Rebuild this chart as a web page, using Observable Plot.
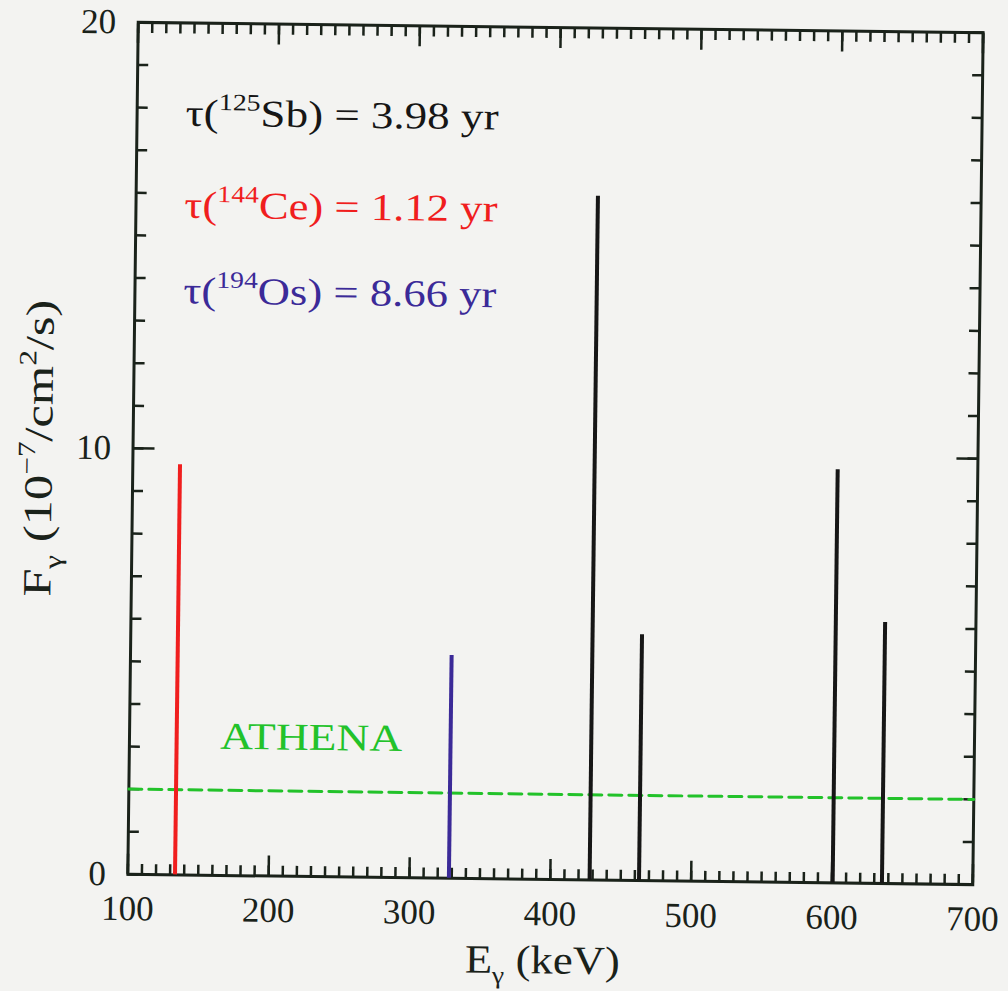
<!DOCTYPE html>
<html><head><meta charset="utf-8">
<script src="https://cdn.jsdelivr.net/npm/d3@7"></script>
<script src="https://cdn.jsdelivr.net/npm/@observablehq/plot@0.6"></script>
<style>
html,body{margin:0;padding:0;background:#f3f3f1;}
#chart svg{display:block;}
</style></head><body><div id="chart"></div>
<script>
// ---- data ----
const lineEnergy  = [133.5, 328.0, 427.9, 463.0, 600.5, 635.5];   // keV
const lineFlux    = [9.63, 5.23, 16.05, 5.77, 9.70, 6.13];          // 10^-7 /cm2/s
const lineNuclide = ["144Ce", "194Os", "125Sb", "125Sb", "125Sb", "125Sb"];
const nuclides       = ["125Sb", "144Ce", "194Os"];
const nuclideMass    = ["125", "144", "194"];
const nuclideElement = ["Sb", "Ce", "Os"];
const lifetimes      = ["3.98", "1.12", "8.66"];                    // yr
const nuclideColors  = ["#161616", "#f01e1e", "#3b2a98"];
const athenaEnergy = [100, 700];
const athenaFlux   = [2.0, 2.0];
const athenaLabel  = "ATHENA";
const xTickLabels = [100, 200, 300, 400, 500, 600, 700];
const yTickLabels = [0, 10, 20];
const xMinorTicks = d3.range(100, 701, 10);
const yMinorTicks = d3.range(0, 21, 1);

const frameColor = "#1a221a";
const green = "#22c22a";
const annotText = nuclides.map((n, i) => `τ(${nuclideMass[i]}${nuclideElement[i]}) = ${lifetimes[i]} yr`);
const xTitle = "Eγ (keV)";
const yTitle = "Fγ (10−7/cm2/s)";

const tickStyle = {stroke: frameColor, strokeWidth: 2.5, label: null, tickFormat: () => ""};

const marks = [
  Plot.frame({stroke: frameColor, strokeWidth: 3}),
  Plot.axisX(xMinorTicks, {anchor: "bottom", tickSize: -10, ...tickStyle}),
  Plot.axisX(xTickLabels, {anchor: "bottom", tickSize: -20, ...tickStyle}),
  Plot.axisX(xMinorTicks, {anchor: "top", tickSize: -10, ...tickStyle}),
  Plot.axisX(xTickLabels, {anchor: "top", tickSize: -20, ...tickStyle}),
  Plot.axisY(yMinorTicks, {anchor: "left", tickSize: -11, ...tickStyle}),
  Plot.axisY(yTickLabels, {anchor: "left", tickSize: -22, ...tickStyle}),
  Plot.axisY(yMinorTicks, {anchor: "right", tickSize: -11, ...tickStyle}),
  Plot.axisY(yTickLabels, {anchor: "right", tickSize: -22, ...tickStyle}),
  Plot.axisX(xTickLabels, {anchor: "bottom", tickSize: 0, tickPadding: 21, fontSize: 35, label: null}),
  Plot.axisY(yTickLabels, {anchor: "left", tickSize: 0, tickPadding: 22, fontSize: 35, label: null}),
  Plot.line(athenaEnergy, {x: d => d, y: (d, i) => athenaFlux[i], stroke: green, strokeWidth: 3, strokeDasharray: "13,7"}),
  Plot.text([athenaLabel], {x: 229, y: 3.26, text: d => d, fill: green, fontSize: 38, textAnchor: "middle", lineAnchor: "middle"}),
  Plot.text([xTitle], {frameAnchor: "bottom", dx: -7, dy: 94, text: d => d, fontSize: 40, lineAnchor: "bottom", textAnchor: "middle"}),
  Plot.text([yTitle], {frameAnchor: "left", dx: -81, dy: 1, rotate: -90, text: d => d, fontSize: 40, lineAnchor: "bottom", textAnchor: "middle"})
];
nuclides.forEach((n, k) => {
  const idx = lineEnergy.map((d, i) => i).filter(i => lineNuclide[i] === n);
  marks.push(Plot.ruleX(idx, {x: i => lineEnergy[i], y1: 0, y2: i => lineFlux[i], stroke: nuclideColors[k], strokeWidth: 4}));
});
const annotY = [17.59, 15.43, 13.42];
marks.push(Plot.text(annotText, {x: 134.4, y: (d, i) => annotY[i], text: d => d, fill: (d, i) => nuclideColors[i], fontSize: 38, textAnchor: "start", lineAnchor: "bottom"}));

const chart = Plot.plot({
  width: 1008, height: 991,
  marginLeft: 132.5, marginRight: 30.5, marginTop: 27, marginBottom: 112,
  x: {domain: [100, 700]},
  y: {domain: [0, 20]},
  color: {type: "identity"},
  style: {background: "transparent", fontFamily: "'Liberation Serif', 'Times New Roman', serif", fontSize: "32px", color: frameColor, overflow: "visible"},
  marks
});

// rich text (super/subscripts) and the wide lettering of the original
const rich = {};
annotText.forEach((s, i) => {
  rich[s] = {fs: 38, len: 313, parts: [{t: "τ("}, {t: nuclideMass[i], sup: true}, {t: `${nuclideElement[i]}) = ${lifetimes[i]} yr`}]};
});
rich[xTitle] = {fs: 40, len: 155, parts: [{t: "E"}, {t: "γ", sub: true}, {t: " (keV)"}]};
rich[yTitle] = {fs: 40, len: 297, parts: [{t: "F"}, {t: "γ", sub: true}, {t: " (10"}, {t: "−7", sup: true}, {t: "/cm"}, {t: "2", sup: true}, {t: "/s)"}]};
rich[athenaLabel] = {fs: 38, len: 182, parts: [{t: athenaLabel}]};
const NS = "http://www.w3.org/2000/svg";
for (const el of chart.querySelectorAll("text")) {
  const spec = rich[el.textContent];
  if (!spec) continue;
  el.textContent = "";
  let shift = 0;
  for (const p of spec.parts) {
    const ts = document.createElementNS(NS, "tspan");
    const target = p.sup ? -0.42 * spec.fs : p.sub ? 0.26 * spec.fs : 0;
    if (target !== shift) ts.setAttribute("dy", target - shift);
    shift = target;
    if (p.sup || p.sub) ts.setAttribute("font-size", 0.62 * spec.fs);
    ts.textContent = p.t;
    el.appendChild(ts);
  }
  el.setAttribute("textLength", spec.len);
  el.setAttribute("lengthAdjust", "spacingAndGlyphs");
}

chart.style.transformOrigin = "555px 453px";
chart.style.transform = "rotate(0.7deg)";
document.getElementById("chart").appendChild(chart);
</script></body></html>
